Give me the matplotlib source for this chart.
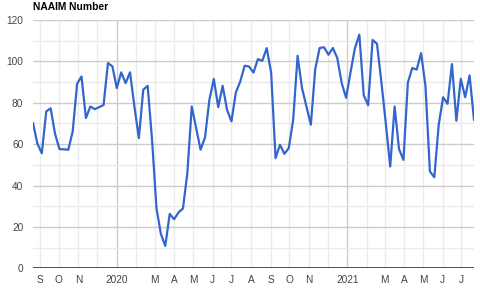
import matplotlib
matplotlib.use("Agg")
import matplotlib.pyplot as plt
import matplotlib.dates as mdates
import pandas as pd
import numpy as np

title = "NAAIM Number"
start_date = "2019-08-21"
values = [70.2, 60.2, 55.6, 75.8, 77.3, 65.0, 57.6, 57.5, 57.3, 66.1,
          89.2, 92.7, 72.6, 78.2, 76.9, 77.9, 78.9, 99.2, 97.6, 87.1,
          94.7, 89.5, 94.7, 78.2, 62.9, 86.3, 88.2, 62.0, 29.0, 16.6,
          10.8, 26.3, 23.7, 27.0, 28.9, 46.0, 78.2, 67.7, 57.3, 63.2,
          81.5, 91.5, 77.9, 88.2, 76.6, 71.0, 85.0, 90.3, 97.9, 97.5,
          94.6, 101.1, 100.3, 106.4, 94.6, 53.2, 59.7, 55.3, 58.1, 71.8,
          102.7, 87.1, 78.2, 69.4, 96.3, 106.5, 106.8, 103.2, 106.5, 101.6,
          89.5, 82.4, 94.7, 106.4, 112.9, 83.6, 78.8, 110.4, 108.5, 90.0,
          70.0, 49.2, 78.2, 57.6, 52.4, 89.7, 96.8, 96.0, 104.0, 87.9,
          46.8, 44.0, 69.4, 82.7, 79.5, 98.7, 71.3, 91.6, 82.7, 93.2,
          71.8]
dates = pd.date_range(start_date, periods=len(values), freq="7D")

tick_dates = ["2019-09-01", "2019-10-01", "2019-11-01", "2020-01-01", "2020-03-01",
              "2020-04-01", "2020-05-01", "2020-06-01", "2020-07-01", "2020-08-01",
              "2020-09-01", "2020-10-01", "2020-11-01", "2021-01-01", "2021-03-01",
              "2021-04-01", "2021-05-01", "2021-06-01", "2021-07-01"]
tick_labels = ["S", "O", "N", "2020", "M", "A", "M", "J", "J", "A", "S", "O", "N",
               "2021", "M", "A", "M", "J", "J"]
year_starts = ["2020-01-01", "2021-01-01"]

fig = plt.figure(figsize=(4.8, 2.88), dpi=100)
ax = fig.add_axes([33/480, 1-268.3/288, (474-33)/480, (268.3-20)/288])

# month gridlines
months = pd.date_range("2019-09-01", "2021-07-01", freq="MS")
for m in months:
    col = "#cccccc" if m.strftime("%Y-%m-%d") in year_starts else "#ebebeb"
    ax.axvline(m, color=col, lw=1.0, zorder=1)
# horizontal gridlines
for v in range(10, 121, 10):
    col = "#cccccc" if v % 20 == 0 else "#ebebeb"
    ax.axhline(v, color=col, lw=1.0, zorder=1)
ax.axhline(0, color="#333333", lw=1.2, zorder=3)

ax.plot(dates, values, color="#3366cc", lw=1.6, zorder=4, solid_joinstyle="round")

ax.set_xlim(dates[0], dates[-1])
ax.set_ylim(0, 120)
ax.set_yticks(range(0, 121, 20))
ax.set_xticks(pd.to_datetime(tick_dates))
ax.set_xticklabels(tick_labels)
for s in ax.spines.values():
    s.set_visible(False)
ax.tick_params(axis="both", length=0, labelsize=7.3, colors="#444444")
ax.tick_params(axis="y", pad=7)
ax.tick_params(axis="x", pad=5)
for lab in ax.get_xticklabels() + ax.get_yticklabels():
    lab.set_fontfamily("Liberation Sans")

fig.text(33/480, 1-7/288, title, fontsize=7.4, fontweight="bold",
         family="Liberation Sans", ha="left", va="center", color="#000000")

fig.savefig("out.png", dpi=100)
